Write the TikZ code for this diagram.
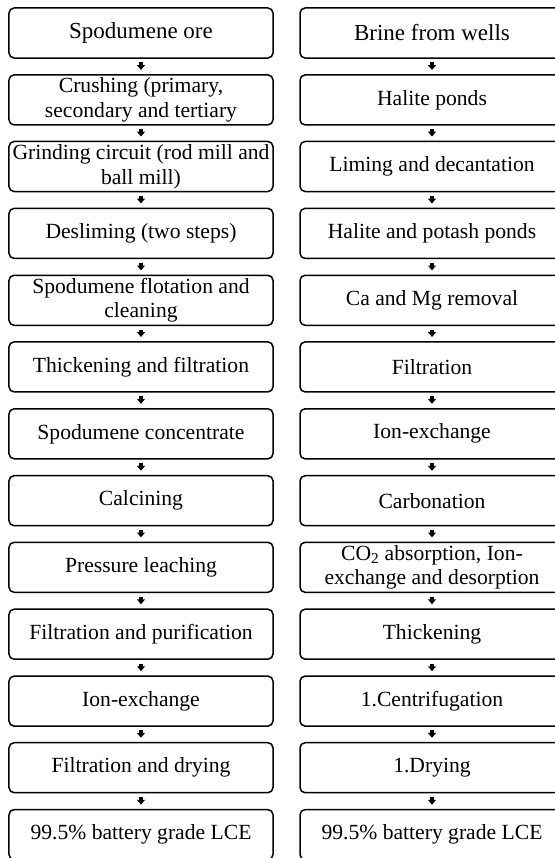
\documentclass[tikz,border=0pt]{standalone}
\usepackage{fontspec}
\setmainfont{Liberation Serif}
\usetikzlibrary{arrows.meta}

\tikzset{
  stepbox/.style={draw, rounded corners=0.17cm, line width=0.05cm,
    minimum width=8.8cm, minimum height=1.667cm,
    align=center, inner sep=0pt, font=\fontsize{20.5}{23.5}\selectfont},
  startbox/.style={stepbox, font=\fontsize{21.8}{24}\selectfont},
  flow/.style={-{Triangle[width=0.26cm,length=0.16cm]}, line width=0.11cm,
    shorten <=0.12cm, shorten >=0.14cm}
}

\begin{document}
\begin{tikzpicture}
\clip (0,0) rectangle (18.5,-28.6);

% spodumene route
\node[startbox] (ore) at (4.7,-1.10) {Spodumene ore};
\node[stepbox] (crush) at (4.7,-3.33) {Crushing (primary,\\ secondary and tertiary};
\node[stepbox] (grind) at (4.7,-5.55) {Grinding circuit (rod mill and\\ ball mill)};
\node[stepbox] (deslime) at (4.7,-7.78) {Desliming (two steps)};
\node[stepbox] (flot) at (4.7,-10.01) {Spodumene flotation and\\ cleaning};
\node[stepbox] (thick) at (4.7,-12.23) {Thickening and filtration};
\node[stepbox] (conc) at (4.7,-14.46) {Spodumene concentrate};
\node[stepbox] (calc) at (4.7,-16.69) {Calcining};
\node[stepbox] (leach) at (4.7,-18.91) {Pressure leaching};
\node[stepbox] (purif) at (4.7,-21.14) {Filtration and purification};
\node[stepbox] (ionx) at (4.7,-23.37) {Ion-exchange};
\node[stepbox] (dry) at (4.7,-25.59) {Filtration and drying};
\node[stepbox] (lceA) at (4.7,-27.82) {99.5\% battery grade LCE};

% brine route
\node[startbox] (brine) at (14.4,-1.10) {Brine from wells};
\node[stepbox] (halite) at (14.4,-3.33) {Halite ponds};
\node[stepbox] (liming) at (14.4,-5.55) {Liming and decantation};
\node[stepbox] (potash) at (14.4,-7.78) {Halite and potash ponds};
\node[stepbox] (camg) at (14.4,-10.01) {Ca and Mg removal};
\node[stepbox] (filt) at (14.4,-12.23) {Filtration};
\node[stepbox] (ionxB) at (14.4,-14.46) {Ion-exchange};
\node[stepbox] (carb) at (14.4,-16.69) {Carbonation};
\node[stepbox] (absorb) at (14.4,-18.91) {CO\textsubscript{2} absorption, Ion-\\exchange and desorption};
\node[stepbox] (thickB) at (14.4,-21.14) {Thickening};
\node[stepbox] (centr) at (14.4,-23.37) {1.Centrifugation};
\node[stepbox] (dryB) at (14.4,-25.59) {1.Drying};
\node[stepbox] (lceB) at (14.4,-27.82) {99.5\% battery grade LCE};

\draw[flow] (ore) -- (crush);
\draw[flow] (crush) -- (grind);
\draw[flow] (grind) -- (deslime);
\draw[flow] (deslime) -- (flot);
\draw[flow] (flot) -- (thick);
\draw[flow] (thick) -- (conc);
\draw[flow] (conc) -- (calc);
\draw[flow] (calc) -- (leach);
\draw[flow] (leach) -- (purif);
\draw[flow] (purif) -- (ionx);
\draw[flow] (ionx) -- (dry);
\draw[flow] (dry) -- (lceA);

\draw[flow] (brine) -- (halite);
\draw[flow] (halite) -- (liming);
\draw[flow] (liming) -- (potash);
\draw[flow] (potash) -- (camg);
\draw[flow] (camg) -- (filt);
\draw[flow] (filt) -- (ionxB);
\draw[flow] (ionxB) -- (carb);
\draw[flow] (carb) -- (absorb);
\draw[flow] (absorb) -- (thickB);
\draw[flow] (thickB) -- (centr);
\draw[flow] (centr) -- (dryB);
\draw[flow] (dryB) -- (lceB);
\end{tikzpicture}
\end{document}
